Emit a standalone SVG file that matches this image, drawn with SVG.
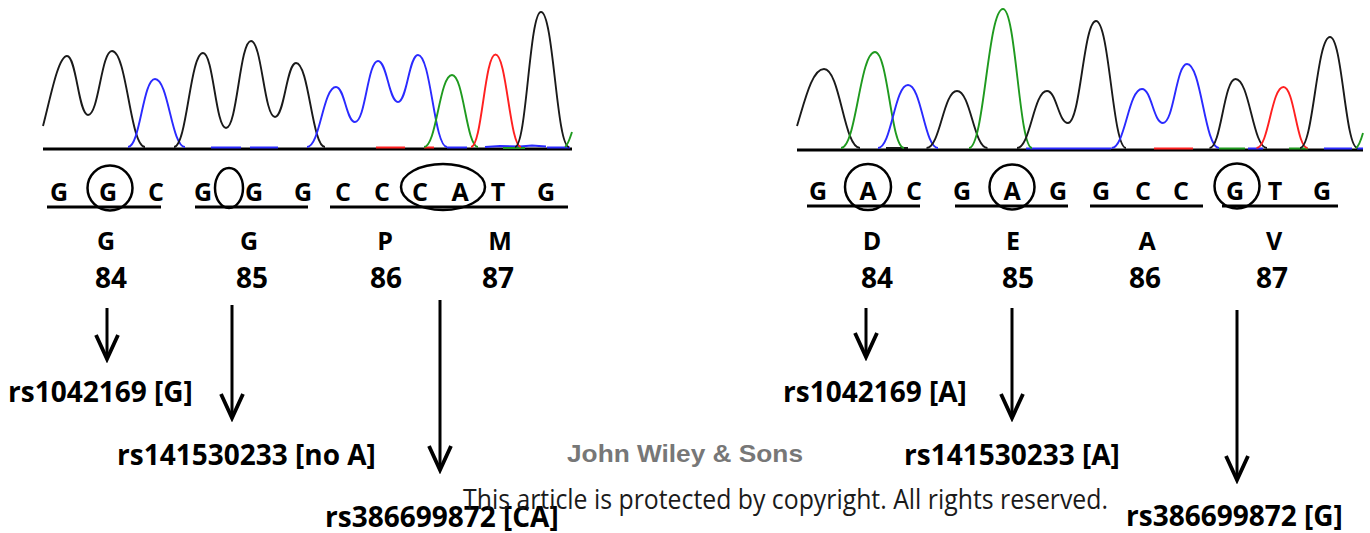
<svg xmlns="http://www.w3.org/2000/svg" width="1370" height="533" viewBox="0 0 1370 533">
  <style>
    .trace { fill: none; stroke-width: 1.9; stroke-linejoin: round; }
    .k { stroke: #1a1a1a; }
    .b { stroke: #2a2aff; }
    .g { stroke: #1f9a1f; }
    .r { stroke: #ff2020; }
    .base { stroke: #000; stroke-width: 3; }
    .tick { stroke-width: 2; }
    .seq { font-family: "Open Sans", "Liberation Sans", sans-serif; font-weight: 700; font-size: 25px; text-anchor: middle; fill: #000; }
    .aa { font-family: "Open Sans", "Liberation Sans", sans-serif; font-weight: 700; font-size: 25px; text-anchor: middle; fill: #000; }
    .num { font-family: "Open Sans", "Liberation Sans", sans-serif; font-weight: 700; font-size: 28px; text-anchor: middle; fill: #000; }
    .snp { font-family: "Open Sans", "Liberation Sans", sans-serif; font-weight: 700; font-size: 28px; fill: #000; }
    .uline { stroke: #000; stroke-width: 3; }
    .ring { fill: none; stroke: #000; stroke-width: 2.5; }
    .arrow { stroke: #000; stroke-width: 3; fill: none; marker-end: url(#chev); }
    .pub { font-family: "Liberation Sans", Arial, sans-serif; font-weight: 700; font-size: 24px; fill: #777; }
    .note { font-family: "Open Sans", "Liberation Sans", sans-serif; font-size: 27px; fill: #1a1a1a; }
  </style>
  <defs>
    <marker id="chev" markerUnits="userSpaceOnUse" viewBox="-30 -16 34 32" refX="0" refY="0" markerWidth="34" markerHeight="32" orient="auto">
      <path d="M-24,-11 L0,0 L-24,11" fill="none" stroke="#000" stroke-width="3.8" stroke-linejoin="miter"/>
    </marker>
  </defs>
  <rect width="1370" height="533" fill="#fff"/>

  <!-- left chromatogram -->
  <g id="trace-left">
    <line class="base" x1="43" y1="149" x2="572" y2="149"/>
    <g class="tick">
      <line class="b" x1="211" y1="147.5" x2="241" y2="147.5"/>
      <line class="b" x1="250" y1="147.5" x2="278" y2="147.5"/>
      <line class="r" x1="376" y1="147.5" x2="405" y2="147.5"/>
      <line class="r" x1="424" y1="147.5" x2="434" y2="147.5"/>
      <line class="b" x1="447" y1="147.5" x2="467" y2="147.5"/>
      <path class="b" d="M485,147 L500,146 L520,146.5 L532,145.5 L546,146.5" fill="none"/>
      <line class="g" x1="503" y1="148" x2="525" y2="148"/>
      <line class="b" x1="547" y1="147.5" x2="570" y2="147.5"/>
    </g>
    <path class="trace k" d="M43,126 C50,100 58,56 67,56 C76.5,56 78.5,115 88,115 C98.8,115 101.2,51 112,51 C126.9,51 130.1,147 145,147"/>
    <path class="trace b" d="M128,147 C140.2,147 142.8,79 155,79 C168.5,79 171.5,147 185,147"/>
    <path class="trace k" d="M174,147 C187,147 190,53 203,53 C213.4,53 215.6,128 226,128 C237.3,128 239.7,41 251,41 C261.8,41 264.2,117 275,117 C284.5,117 286.5,63 296,63 C309,63 312,147 325,147"/>
    <path class="trace b" d="M307,147 C320,147 323,87 336,87 C344.6,87 346.4,122 355,122 C365.4,122 367.6,61 378,61 C387,61 389,102 398,102 C407,102 409,55 418,55 C431,55 434,147 447,147"/>
    <path class="trace g" d="M424,147 C436.6,147 439.4,75 452,75 C463.7,75 466.3,147 478,147"/>
    <path class="trace r" d="M471,147 C482,147 484.5,54.5 495.5,54.5 C506.7,54.5 509.8,147 521,147"/>
    <path class="trace k" d="M515,147 C526.7,147 529.3,12 541,12 C553.6,12 556.4,147 569,147"/>
    <path class="trace g" d="M565,147 C568,145 570,138 572,132"/>
  </g>

  <!-- right chromatogram -->
  <g id="trace-right">
    <line class="base" x1="797" y1="150" x2="1363" y2="150"/>
    <g class="tick">
      <line class="k" x1="886" y1="148" x2="908" y2="148"/>
      <line class="b" x1="1026" y1="148.5" x2="1048" y2="148.5"/>
      <line class="b" x1="1048" y1="148.5" x2="1111" y2="148.5"/>
      <line class="r" x1="1154" y1="148.5" x2="1193" y2="148.5"/>
      <line class="g" x1="1219" y1="148.5" x2="1245" y2="148.5"/>
      <line class="b" x1="1248" y1="148.5" x2="1263" y2="148.5"/>
      <line class="g" x1="1289" y1="148.5" x2="1308" y2="148.5"/>
      <line class="b" x1="1324" y1="148.5" x2="1352" y2="148.5"/>
      <line class="b" x1="1357" y1="148.5" x2="1363" y2="148.5"/>
    </g>
    <path class="trace k" d="M797,126 C805,100 812,69 824,69 C840.2,69 843.8,148 860,148"/>
    <path class="trace g" d="M841,148 C856.3,148 859.7,52 875,52 C888,52 891,148 904,148"/>
    <path class="trace b" d="M878,148 C891.5,148 894.5,85 908,85 C921.5,85 924.5,148 938,148"/>
    <path class="trace k" d="M926.5,148 C940.2,148 943.3,91 957,91 C970.7,91 973.8,148 987.5,148"/>
    <path class="trace g" d="M969,148 C984.3,148 987.7,9 1003,9 C1016,9 1019,148 1032,148"/>
    <path class="trace k" d="M1017,148 C1030.5,148 1033.5,91 1047,91 C1056.5,91 1058.5,123 1068,123 C1080.6,123 1083.4,21 1096,21 C1109.5,21 1112.5,148 1126,148"/>
    <path class="trace b" d="M1111.5,148 C1125.2,148 1128.3,89 1142,89 C1151.5,89 1153.5,123 1163,123 C1173.8,123 1176.2,64 1187,64 C1201.4,64 1204.6,148 1219,148"/>
    <path class="trace k" d="M1209.5,148 C1221.2,148 1223.8,79 1235.5,79 C1249.7,79 1252.8,148 1267,148"/>
    <path class="trace r" d="M1256.5,148 C1268.7,148 1271.3,87 1283.5,87 C1294.3,87 1296.7,148 1307.5,148"/>
    <path class="trace k" d="M1300,148 C1313.5,148 1316.5,37 1330,37 C1342.4,37 1345.1,148 1357.5,148"/>
    <path class="trace g" d="M1356,148 C1359,146 1361,140 1363,133"/>
  </g>

  <!-- left codons -->
  <g id="codon-84-left">
    <line class="uline" x1="47" y1="207" x2="161" y2="207"/>
    <text class="seq" x="59" y="201">G</text>
    <text class="seq" x="108" y="201">G</text>
    <text class="seq" x="156" y="201">C</text>
    <circle class="ring" cx="110" cy="188" r="22.5"/>
    <text class="aa" x="106" y="250">G</text>
    <text class="num" x="111" y="288">84</text>
  </g>
  <g id="codon-85-left">
    <line class="uline" x1="195" y1="207" x2="308" y2="207"/>
    <text class="seq" x="203" y="201">G</text>
    <text class="seq" x="254" y="201">G</text>
    <text class="seq" x="303" y="201">G</text>
    <ellipse class="ring" cx="229" cy="188" rx="14" ry="20"/>
    <text class="aa" x="249" y="250">G</text>
    <text class="num" x="252" y="288">85</text>
  </g>
  <g id="codon-86-87-left">
    <line class="uline" x1="330" y1="207" x2="568" y2="207"/>
    <text class="seq" x="343" y="201">C</text>
    <text class="seq" x="382" y="201">C</text>
    <text class="seq" x="420" y="201">C</text>
    <text class="seq" x="460" y="201">A</text>
    <text class="seq" x="498" y="201">T</text>
    <text class="seq" x="546" y="201">G</text>
    <ellipse class="ring" cx="443" cy="187" rx="42" ry="23"/>
    <text class="aa" x="385" y="250">P</text>
    <text class="num" x="386" y="288">86</text>
    <text class="aa" x="500" y="250">M</text>
    <text class="num" x="498" y="288">87</text>
  </g>

  <!-- right codons -->
  <g id="codon-84-right">
    <line class="uline" x1="807" y1="206" x2="920" y2="206"/>
    <text class="seq" x="818" y="200">G</text>
    <text class="seq" x="868" y="200">A</text>
    <text class="seq" x="914" y="200">C</text>
    <circle class="ring" cx="868" cy="187" r="23"/>
    <text class="aa" x="872" y="250">D</text>
    <text class="num" x="877" y="288">84</text>
  </g>
  <g id="codon-85-right">
    <line class="uline" x1="955" y1="206" x2="1068" y2="206"/>
    <text class="seq" x="962" y="200">G</text>
    <text class="seq" x="1012" y="200">A</text>
    <text class="seq" x="1058" y="200">G</text>
    <circle class="ring" cx="1012" cy="187" r="22.5"/>
    <text class="aa" x="1013" y="250">E</text>
    <text class="num" x="1018" y="288">85</text>
  </g>
  <g id="codon-86-right">
    <line class="uline" x1="1090" y1="206" x2="1203" y2="206"/>
    <text class="seq" x="1101" y="200">G</text>
    <text class="seq" x="1143" y="200">C</text>
    <text class="seq" x="1181" y="200">C</text>
    <text class="aa" x="1147" y="250">A</text>
    <text class="num" x="1145" y="288">86</text>
  </g>
  <g id="codon-87-right">
    <line class="uline" x1="1222" y1="206" x2="1338" y2="206"/>
    <text class="seq" x="1235" y="200">G</text>
    <text class="seq" x="1275" y="200">T</text>
    <text class="seq" x="1322" y="200">G</text>
    <circle class="ring" cx="1237" cy="186" r="22.5"/>
    <text class="aa" x="1274" y="250">V</text>
    <text class="num" x="1272" y="288">87</text>
  </g>

  <!-- variant labels -->
  <g id="snp-rs1042169-G"><text class="snp" x="8" y="402">rs1042169 [G]</text></g>
  <g id="snp-rs141530233-noA"><text class="snp" x="117" y="465">rs141530233 [no A]</text></g>
  <g id="snp-rs386699872-CA"><text class="snp" x="325" y="527">rs386699872 [CA]</text></g>
  <g id="snp-rs1042169-A"><text class="snp" x="783" y="402">rs1042169 [A]</text></g>
  <g id="snp-rs141530233-A"><text class="snp" x="904" y="465">rs141530233 [A]</text></g>
  <g id="snp-rs386699872-G"><text class="snp" x="1126" y="526">rs386699872 [G]</text></g>

  <!-- arrows from codons to variants -->
  <g id="connectors">
    <line class="arrow" x1="107" y1="308" x2="107" y2="359"/>
    <line class="arrow" x1="232" y1="305" x2="232" y2="418"/>
    <line class="arrow" x1="440" y1="300" x2="440" y2="470"/>
    <line class="arrow" x1="866" y1="308" x2="866" y2="357"/>
    <line class="arrow" x1="1012" y1="308" x2="1012" y2="418"/>
    <line class="arrow" x1="1237" y1="310" x2="1237" y2="480"/>
  </g>

  <!-- publisher notice -->
  <text class="pub" x="567" y="462" textLength="236" lengthAdjust="spacingAndGlyphs">John Wiley &amp; Sons</text>
  <text class="note" x="463" y="509" textLength="645" lengthAdjust="spacingAndGlyphs">This article is protected by copyright. All rights reserved.</text>
</svg>
